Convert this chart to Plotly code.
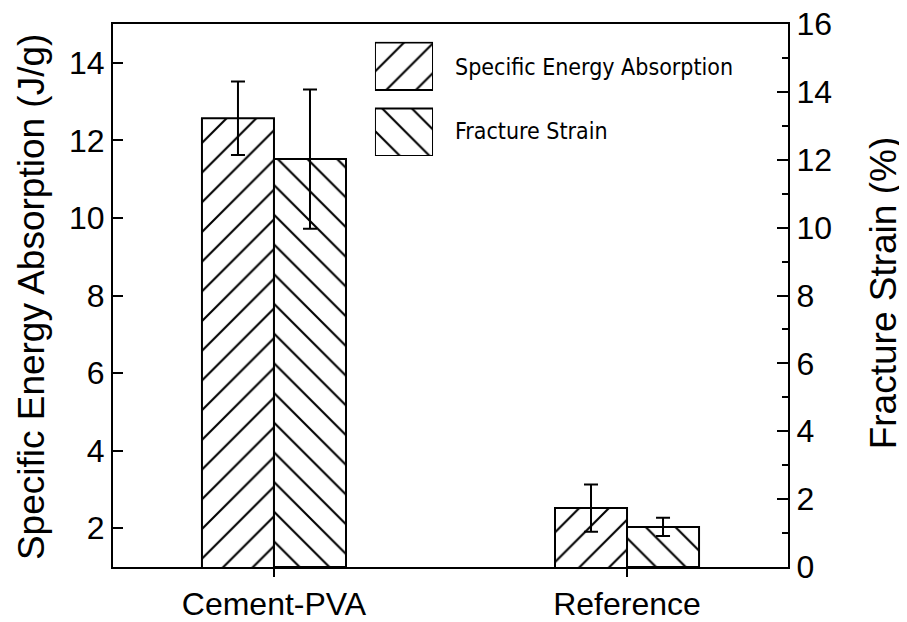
import plotly.graph_objects as go

categories = ["Cement-PVA", "Reference"]
sea_values = [12.57, 2.52]          # Specific Energy Absorption (J/g)
sea_errors = [0.95, 0.61]
fs_values = [12.02, 1.18]           # Fracture Strain (%)
fs_errors = [2.05, 0.27]
legend_labels = ["Specific Energy Absorption", "Fracture Strain"]
left_title = "Specific Energy Absorption (J/g)"
right_title = "Fracture Strain (%)"
left_ticks = [2, 4, 6, 8, 10, 12, 14]
right_ticks = [0, 2, 4, 6, 8, 10, 12, 14, 16]

FONT = "Liberation Sans, Arial, Helvetica, sans-serif"
NARROW = "Liberation Sans Narrow, Arial Narrow, DejaVu Sans Condensed, Liberation Sans, sans-serif"
BAR_W = 0.204
HATCH = 21
SOLID = 0.1


def hatch(shape):
    return dict(shape=shape, fgcolor="black", bgcolor="white", fgopacity=1,
                size=HATCH, solidity=SOLID, fillmode="replace")


fig = go.Figure()

fig.add_trace(go.Bar(
    x=categories, y=sea_values, name=legend_labels[0],
    width=BAR_W, offset=-BAR_W,
    marker=dict(color="white", line=dict(color="black", width=2), pattern=hatch("/")),
    error_y=dict(type="data", array=sea_errors, color="black", thickness=2, width=7),
    xaxis="x", yaxis="y", showlegend=False,
))
fig.add_trace(go.Bar(
    x=categories, y=fs_values, name=legend_labels[1],
    width=BAR_W, offset=0,
    marker=dict(color="white", line=dict(color="black", width=2), pattern=hatch("\\")),
    error_y=dict(type="data", array=fs_errors, color="black", thickness=2, width=7),
    xaxis="x", yaxis="y2", showlegend=False,
))

# Legend keys (large hatched boxes) on an auxiliary hidden axis
shapes_for_keys = ["/", "\\"]
n = len(legend_labels)
for i, (lab, shp) in enumerate(zip(legend_labels, shapes_for_keys)):
    fig.add_trace(go.Bar(
        x=[1], y=[n - 1 - i], base=0, orientation="h", width=0.72,
        marker=dict(color="white", line=dict(color="black", width=2), pattern=hatch(shp)),
        xaxis="x3", yaxis="y3", showlegend=False, hoverinfo="skip",
        cliponaxis=False,
    ))

fig.add_annotation(text=legend_labels[0], xref="paper", yref="paper",
                   x=0.5037, y=0.9214, xanchor="left", yanchor="middle",
                   showarrow=False, font=dict(family=NARROW, size=23, color="black"))
fig.add_annotation(text=legend_labels[1], xref="paper", yref="paper",
                   x=0.5037, y=0.8026, xanchor="left", yanchor="middle",
                   showarrow=False, font=dict(family=NARROW, size=23, color="black"))

# Axis titles
fig.add_annotation(text=left_title, xref="paper", yref="paper",
                   x=-0.1215, y=0.497, xanchor="center", yanchor="middle",
                   textangle=-90, showarrow=False,
                   font=dict(family=FONT, size=37, color="black"))
fig.add_annotation(text=right_title, xref="paper", yref="paper",
                   x=1.1415, y=0.505, xanchor="center", yanchor="middle",
                   textangle=-90, showarrow=False,
                   font=dict(family=FONT, size=37, color="black"))

fig.update_layout(
    width=899, height=614,
    margin=dict(l=105, r=119, t=16, b=55),
    paper_bgcolor="white", plot_bgcolor="white",
    barmode="overlay",
    font=dict(family=FONT, color="black", size=32),
    xaxis=dict(
        type="category", range=[-0.456, 1.456], automargin=False,
        showline=True, linecolor="black", linewidth=2, mirror=True,
        ticks="outside", ticklen=8, tickwidth=2, tickcolor="black",
        showgrid=False, zeroline=False,
        tickfont=dict(family=FONT, size=32, color="black"),
    ),
    yaxis=dict(
        range=[1, 15], tickvals=left_ticks, automargin=False,
        showline=True, linecolor="black", linewidth=2,
        ticks="inside", ticklen=10, tickwidth=2, tickcolor="black",
        showgrid=False, zeroline=False, ticklabeloverflow="allow",
        tickfont=dict(family=FONT, size=32, color="black"),
    ),
    yaxis2=dict(
        range=[0, 16], tickvals=right_ticks, overlaying="y", side="right",
        automargin=False, ticklabeloverflow="allow",
        showline=True, linecolor="black", linewidth=2,
        ticks="inside", ticklen=11, tickwidth=2, tickcolor="black",
        minor=dict(dtick=1, ticks="inside", ticklen=6, tickwidth=2, tickcolor="black"),
        showgrid=False, zeroline=False,
        tickfont=dict(family=FONT, size=32, color="black"),
    ),
    xaxis3=dict(domain=[0.3881, 0.4741], range=[0, 1], visible=False,
                anchor="y3", fixedrange=True),
    yaxis3=dict(domain=[0.7569, 0.9671], range=[-0.36, 1.37], visible=False,
                anchor="x3", fixedrange=True),
)

fig.write_html("out.html")
